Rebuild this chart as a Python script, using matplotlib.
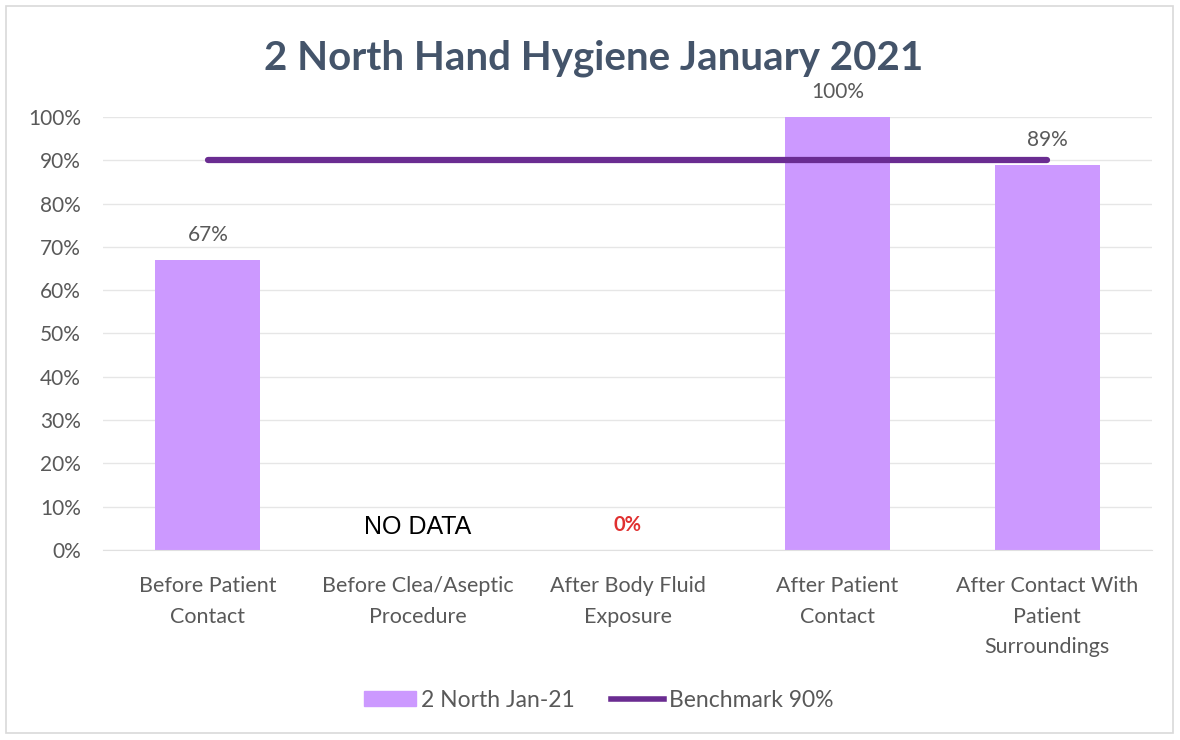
import numpy as np
import matplotlib.pyplot as plt
from matplotlib.patches import Rectangle
from matplotlib.lines import Line2D
from matplotlib.patches import Patch

plt.rcParams['font.family'] = ['Lato', 'DejaVu Sans']

categories = ['Before Patient\nContact', 'Before Clea/Aseptic\nProcedure', 'After Body Fluid\nExposure',
              'After Patient\nContact', 'After Contact With\nPatient\nSurroundings']
values = [67, np.nan, 0, 100, 89]
benchmark = [90, 90, 90, 90, 90]
bar_labels = ['67%', 'NO DATA', '0%', '100%', '89%']

bar_color = '#cc99ff'
line_color = '#6a2c91'
text_gray = '#595959'

fig = plt.figure(figsize=(11.8, 7.4), dpi=100)
ax = fig.add_axes([0.0873, 0.2568, 0.889, 0.5851])

x = np.arange(len(categories))
ax.bar(x, values, width=0.5, color=bar_color, zorder=2)
ax.plot(x, benchmark, color=line_color, lw=4.5, solid_capstyle='round', zorder=3)

for i, (v, lab) in enumerate(zip(values, bar_labels)):
    if lab == 'NO DATA':
        ax.text(i, 5.3, lab, ha='center', va='center', fontsize=18, color='black',
                family=['Liberation Sans'])
    elif v == 0:
        ax.text(i, 5.8, lab, ha='center', va='center', fontsize=14.5, color='#e03030',
                fontweight='bold')
    else:
        ax.text(i, v + 5.8, lab, ha='center', va='center', fontsize=15, color=text_gray)

ax.set_xlim(-0.5, 4.5)
ax.set_ylim(0, 100)
ax.set_yticks(np.arange(0, 101, 10))
ax.set_yticklabels([f'{t}%' for t in range(0, 101, 10)], fontsize=15, color=text_gray)
ax.set_xticks(x)
ax.set_xticklabels(categories, fontsize=15.5, color=text_gray, linespacing=1.65)
ax.tick_params(axis='both', length=0)
ax.tick_params(axis='x', pad=19)
ax.tick_params(axis='y', pad=16)
ax.grid(axis='y', color='#e6e6e6', lw=1, zorder=0)
for s in ax.spines.values():
    s.set_visible(False)
ax.spines['bottom'].set_visible(True)
ax.spines['bottom'].set_color('#e0e0e0')

fig.text(0.503, 0.921, '2 North Hand Hygiene January 2021', ha='center', va='center',
         fontsize=29, fontweight='bold', color='#44546a')

handles = [Patch(color=bar_color, label='2 North Jan-21'),
           Line2D([0], [0], color=line_color, lw=4, label='Benchmark 90%')]
fig.legend(handles=handles, loc='center', bbox_to_anchor=(0.507, 0.054), ncol=2, frameon=False,
           fontsize=16.5, labelcolor=text_gray, handlelength=2.3, handleheight=0.65,
           columnspacing=1.6, handletextpad=0.2)

fig.patches.append(Rectangle((0.005, 0.01), 0.989, 0.982, transform=fig.transFigure,
                             fill=False, edgecolor='#d9d9d9', lw=1.2))

fig.savefig('out.png', dpi=100)
